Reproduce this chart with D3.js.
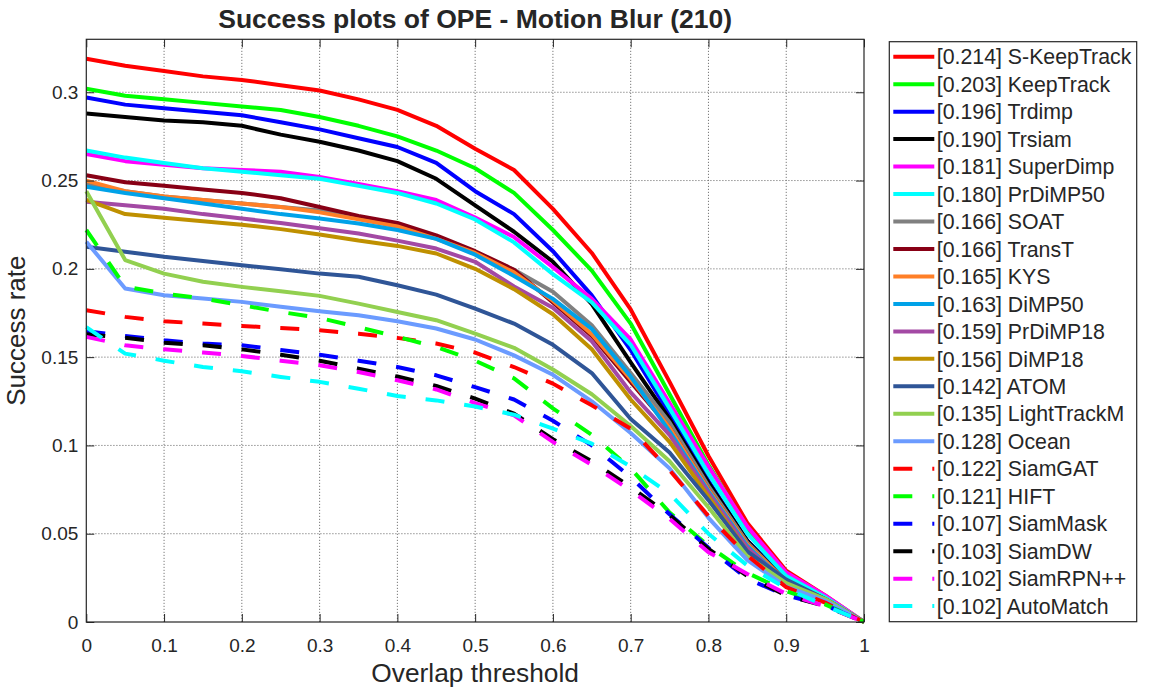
<!DOCTYPE html>
<html>
<head>
<meta charset="utf-8">
<script src="https://cdn.jsdelivr.net/npm/d3@7"></script>
<style>
  body { margin: 0; background: #fff; }
  text { font-family: "Liberation Sans", Arial, Helvetica, sans-serif; fill: #262626; }
</style>
</head>
<body>
<div id="chart"></div>
<script>
const thresholds = [0, 0.05, 0.1, 0.15, 0.2, 0.25, 0.3, 0.35, 0.4, 0.45, 0.5, 0.55, 0.6, 0.65, 0.7, 0.75, 0.8, 0.85, 0.9, 0.95, 1];

const xTicks = [0, 0.1, 0.2, 0.3, 0.4, 0.5, 0.6, 0.7, 0.8, 0.9, 1];
const xTickLabels = ["0", "0.1", "0.2", "0.3", "0.4", "0.5", "0.6", "0.7", "0.8", "0.9", "1"];
const yTicks = [0, 0.05, 0.1, 0.15, 0.2, 0.25, 0.3];
const yTickLabels = ["0", "0.05", "0.1", "0.15", "0.2", "0.25", "0.3"];

const trackers = ["S-KeepTrack", "KeepTrack", "Trdimp", "Trsiam", "SuperDimp", "PrDiMP50", "SOAT", "TransT", "KYS", "DiMP50", "PrDiMP18", "DiMP18", "ATOM", "LightTrackM", "Ocean", "SiamGAT", "HIFT", "SiamMask", "SiamDW", "SiamRPN++", "AutoMatch"];
const aucs = ["0.214", "0.203", "0.196", "0.190", "0.181", "0.180", "0.166", "0.166", "0.165", "0.163", "0.159", "0.156", "0.142", "0.135", "0.128", "0.122", "0.121", "0.107", "0.103", "0.102", "0.102"];

// success rate per threshold
const sKeepTrack = [0.319, 0.315, 0.312, 0.309, 0.307, 0.304, 0.301, 0.296, 0.290, 0.281, 0.268, 0.256, 0.234, 0.209, 0.177, 0.136, 0.094, 0.056, 0.029, 0.015, 0];
const keepTrack = [0.302, 0.298, 0.296, 0.294, 0.292, 0.290, 0.286, 0.281, 0.275, 0.267, 0.257, 0.243, 0.222, 0.199, 0.169, 0.129, 0.089, 0.053, 0.026, 0.014, 0];
const trdimp = [0.297, 0.293, 0.291, 0.289, 0.287, 0.283, 0.279, 0.274, 0.269, 0.260, 0.244, 0.231, 0.210, 0.185, 0.154, 0.118, 0.080, 0.046, 0.024, 0.012, 0];
const trsiam = [0.288, 0.286, 0.284, 0.283, 0.281, 0.276, 0.272, 0.267, 0.261, 0.251, 0.236, 0.221, 0.204, 0.180, 0.147, 0.115, 0.079, 0.046, 0.023, 0.012, 0];
const superDimp = [0.265, 0.261, 0.259, 0.257, 0.256, 0.255, 0.252, 0.248, 0.244, 0.239, 0.229, 0.218, 0.201, 0.183, 0.160, 0.124, 0.088, 0.054, 0.028, 0.015, 0];
const prDiMP50 = [0.267, 0.263, 0.260, 0.257, 0.255, 0.253, 0.251, 0.247, 0.243, 0.237, 0.228, 0.215, 0.197, 0.181, 0.157, 0.121, 0.084, 0.050, 0.026, 0.014, 0];
const soat = [0.248, 0.244, 0.241, 0.239, 0.237, 0.235, 0.233, 0.229, 0.225, 0.218, 0.209, 0.1995, 0.187, 0.168, 0.141, 0.113, 0.077, 0.045, 0.023, 0.013, 0];
const transT = [0.253, 0.249, 0.247, 0.245, 0.243, 0.240, 0.235, 0.230, 0.226, 0.219, 0.210, 0.1995, 0.181, 0.162, 0.136, 0.110, 0.075, 0.044, 0.023, 0.013, 0];
const kys = [0.250, 0.244, 0.241, 0.239, 0.237, 0.235, 0.232, 0.228, 0.224, 0.217, 0.209, 0.198, 0.182, 0.163, 0.1375, 0.110, 0.075, 0.044, 0.023, 0.013, 0];
const dimp50 = [0.2465, 0.243, 0.240, 0.237, 0.234, 0.231, 0.2285, 0.2257, 0.222, 0.217, 0.208, 0.196, 0.183, 0.166, 0.139, 0.108, 0.074, 0.043, 0.022, 0.013, 0];
const prDiMP18 = [0.238, 0.236, 0.234, 0.231, 0.2285, 0.226, 0.223, 0.220, 0.216, 0.2115, 0.204, 0.190, 0.178, 0.159, 0.130, 0.106, 0.073, 0.042, 0.022, 0.013, 0];
const dimp18 = [0.239, 0.231, 0.229, 0.227, 0.225, 0.2225, 0.2195, 0.216, 0.213, 0.2087, 0.200, 0.1885, 0.1743, 0.1545, 0.126, 0.102, 0.071, 0.040, 0.022, 0.013, 0];
const atom = [0.2125, 0.2097, 0.2068, 0.2044, 0.202, 0.1998, 0.1973, 0.1955, 0.1907, 0.1854, 0.1775, 0.169, 0.157, 0.141, 0.115, 0.096, 0.069, 0.040, 0.024, 0.013, 0];
const lightTrackM = [0.244, 0.205, 0.1973, 0.1927, 0.1898, 0.1873, 0.1847, 0.1803, 0.1756, 0.1709, 0.1633, 0.1553, 0.143, 0.129, 0.111, 0.091, 0.065, 0.037, 0.022, 0.013, 0];
const ocean = [0.2154, 0.1889, 0.185, 0.1832, 0.1813, 0.1785, 0.176, 0.1737, 0.1703, 0.1662, 0.160, 0.151, 0.140, 0.125, 0.107, 0.087, 0.059, 0.035, 0.020, 0.012, 0];
const siamGAT = [0.1766, 0.1728, 0.1703, 0.169, 0.1677, 0.1665, 0.1652, 0.1633, 0.1609, 0.1577, 0.1526, 0.1444, 0.135, 0.1227, 0.1095, 0.086, 0.060, 0.0376, 0.0197, 0.011, 0];
const hift = [0.222, 0.190, 0.186, 0.1832, 0.1794, 0.1756, 0.1722, 0.167, 0.1615, 0.1558, 0.148, 0.138, 0.121, 0.106, 0.087, 0.062, 0.043, 0.0278, 0.0175, 0.010, 0];
const siamMask = [0.1647, 0.162, 0.1595, 0.1577, 0.1567, 0.154, 0.1514, 0.148, 0.1444, 0.1397, 0.133, 0.126, 0.114, 0.100, 0.082, 0.061, 0.042, 0.0244, 0.015, 0.0095, 0];
const siamDW = [0.163, 0.161, 0.1582, 0.1567, 0.1544, 0.1514, 0.148, 0.1435, 0.139, 0.1337, 0.1265, 0.118, 0.1035, 0.091, 0.0764, 0.0605, 0.0414, 0.026, 0.015, 0.009, 0];
const siamRPNpp = [0.1615, 0.1567, 0.1544, 0.1526, 0.1507, 0.148, 0.1454, 0.1416, 0.1369, 0.1317, 0.124, 0.117, 0.102, 0.089, 0.0745, 0.0584, 0.0395, 0.0272, 0.0159, 0.009, 0];
const autoMatch = [0.167, 0.152, 0.148, 0.1444, 0.142, 0.1388, 0.136, 0.1321, 0.128, 0.1255, 0.122, 0.1174, 0.1095, 0.101, 0.088, 0.0726, 0.050, 0.032, 0.019, 0.0093, 0];

const seriesValues = [sKeepTrack, keepTrack, trdimp, trsiam, superDimp, prDiMP50, soat, transT, kys, dimp50, prDiMP18, dimp18, atom, lightTrackM, ocean, siamGAT, hift, siamMask, siamDW, siamRPNpp, autoMatch];

const colors = ["#ff0000", "#00ff00", "#0000ff", "#000000", "#ff00ff", "#00ffff", "#808080", "#880015", "#ff7f27", "#00a2e8", "#a349a4", "#bf9000", "#2f5597", "#92d050", "#6b9bff", "#ff0000", "#00ff00", "#0000ff", "#000000", "#ff00ff", "#00ffff"];
const dashed = trackers.map((d, i) => i >= 15);

const width = 1152;
const height = 691;
const margin = { top: 39.3, right: 288, bottom: 69, left: 86.3 };
const plotW = width - margin.left - margin.right;
const plotH = height - margin.top - margin.bottom;
const axisColor = "#262626";
const dashPattern = "19,20";

const svg = d3.select("#chart").append("svg").attr("width", width).attr("height", height).attr("viewBox", [0, 0, width, height]);
svg.append("rect").attr("width", width).attr("height", height).attr("fill", "#fff");

const x = d3.scaleLinear().domain([0, 1]).range([margin.left, margin.left + plotW]);
const y = d3.scaleLinear().domain([0, 0.33]).range([margin.top + plotH, margin.top]);

// grid (dotted)
const grid = svg.append("g").attr("stroke", "#7a7a7a").attr("stroke-width", 1).attr("stroke-dasharray", "1.2,1.8");
grid
  .selectAll(".vg")
  .data(xTicks.slice(1, -1))
  .join("line")
  .attr("x1", (d) => x(d))
  .attr("x2", (d) => x(d))
  .attr("y1", y.range()[0])
  .attr("y2", y.range()[1]);
grid
  .selectAll(".hg")
  .data(yTicks.slice(1))
  .join("line")
  .attr("x1", x.range()[0])
  .attr("x2", x.range()[1])
  .attr("y1", (d) => y(d))
  .attr("y2", (d) => y(d));

// curves, drawn in legend order
const line = d3
  .line()
  .x((d, i) => x(thresholds[i]))
  .y((d) => y(d));

svg
  .append("g")
  .selectAll("path")
  .data(seriesValues)
  .join("path")
  .attr("fill", "none")
  .attr("stroke", (d, i) => colors[i])
  .attr("stroke-width", 4)
  .attr("stroke-linejoin", "round")
  .attr("stroke-dasharray", (d, i) => (dashed[i] ? dashPattern : null))
  .attr("d", line);

// axes: ticks inside, box around
const tickLen = 8;
const styleAxis = (g) => {
  g.select(".domain").remove();
  g.selectAll(".tick line").attr("stroke", axisColor);
  g.selectAll(".tick text").attr("fill", axisColor).style("font-size", "19px");
};

svg
  .append("g")
  .attr("transform", `translate(0,${y.range()[0]})`)
  .call(d3.axisBottom(x).tickValues(xTicks).tickFormat((d, i) => xTickLabels[i]).tickSizeInner(-tickLen).tickSizeOuter(0).tickPadding(17))
  .call(styleAxis);
svg
  .append("g")
  .attr("transform", `translate(0,${y.range()[1]})`)
  .call(d3.axisTop(x).tickValues(xTicks).tickFormat("").tickSizeInner(-tickLen).tickSizeOuter(0))
  .call(styleAxis);
svg
  .append("g")
  .attr("transform", `translate(${x.range()[0]},0)`)
  .call(d3.axisLeft(y).tickValues(yTicks).tickFormat((d, i) => yTickLabels[i]).tickSizeInner(-tickLen).tickSizeOuter(0).tickPadding(8))
  .call(styleAxis);
svg
  .append("g")
  .attr("transform", `translate(${x.range()[1]},0)`)
  .call(d3.axisRight(y).tickValues(yTicks).tickFormat("").tickSizeInner(-tickLen).tickSizeOuter(0))
  .call(styleAxis);

svg
  .append("rect")
  .attr("x", x.range()[0])
  .attr("y", y.range()[1])
  .attr("width", plotW)
  .attr("height", plotH)
  .attr("fill", "none")
  .attr("stroke", axisColor)
  .attr("stroke-width", 1.2);

// titles
svg
  .append("text")
  .attr("x", x(0.5))
  .attr("y", 28)
  .attr("text-anchor", "middle")
  .style("font-size", "26.5px")
  .style("font-weight", "bold")
  .attr("fill", "#000")
  .text("Success plots of OPE - Motion Blur (210)");
svg
  .append("text")
  .attr("x", x(0.5))
  .attr("y", 682)
  .attr("text-anchor", "middle")
  .style("font-size", "26.3px")
  .text("Overlap threshold");
svg
  .append("text")
  .attr("transform", `translate(25,${(y.range()[0] + y.range()[1]) / 2}) rotate(-90)`)
  .attr("text-anchor", "middle")
  .style("font-size", "26px")
  .text("Success rate");

// legend
const legendBox = { x: 889.3, y: 41.7, w: 247.4, h: 580 };
svg
  .append("rect")
  .attr("x", legendBox.x)
  .attr("y", legendBox.y)
  .attr("width", legendBox.w)
  .attr("height", legendBox.h)
  .attr("fill", "#fff")
  .attr("stroke", axisColor)
  .attr("stroke-width", 1.2);

const legend = svg
  .append("g")
  .selectAll("g")
  .data(trackers)
  .join("g")
  .attr("transform", (d, i) => `translate(${legendBox.x},${56.7 + i * 27.47})`);
legend
  .append("line")
  .attr("x1", 4)
  .attr("x2", 45)
  .attr("stroke", (d, i) => colors[i])
  .attr("stroke-width", 4)
  .attr("stroke-dasharray", (d, i) => (dashed[i] ? dashPattern : null));
legend
  .append("text")
  .attr("x", 47.5)
  .attr("dy", "0.36em")
  .style("font-size", "21.3px")
  .attr("fill", "#000")
  .text((d, i) => `[${aucs[i]}] ${d}`);
</script>
</body>
</html>
